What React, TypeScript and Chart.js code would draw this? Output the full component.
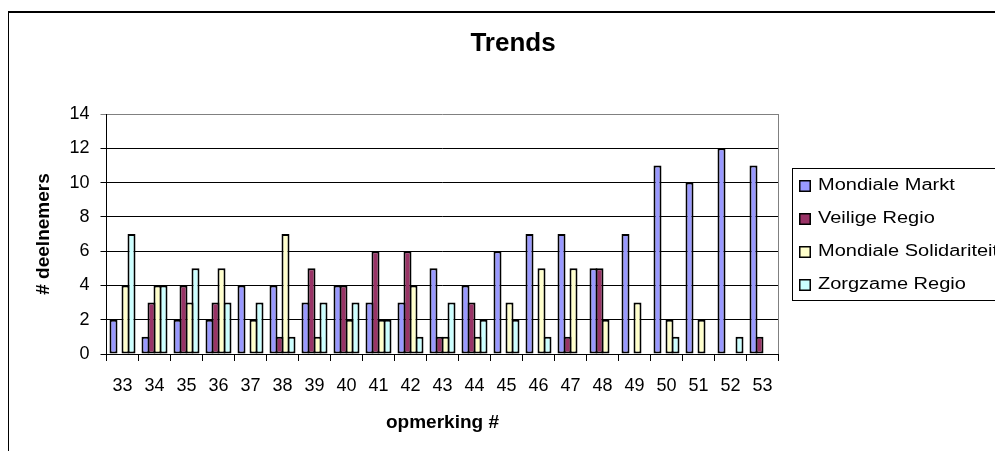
import React, { useEffect, useRef } from "react";
import { Chart, registerables } from "chart.js";

Chart.register(...registerables);

const categories = ["33", "34", "35", "36", "37", "38", "39", "40", "41", "42", "43", "44", "45", "46", "47", "48", "49", "50", "51", "52", "53"];
const mondialeMarkt = [2, 1, 2, 2, 4, 4, 3, 4, 3, 3, 5, 4, 6, 7, 7, 5, 7, 11, 10, 12, 11];
const veiligeRegio = [0, 3, 4, 3, 0, 1, 5, 4, 6, 6, 1, 3, 0, 0, 1, 5, 0, 0, 0, 0, 1];
const mondialeSolidariteit = [4, 4, 3, 5, 2, 7, 1, 2, 2, 4, 1, 1, 3, 5, 5, 2, 3, 2, 2, 0, 0];
const zorgzameRegio = [7, 4, 5, 3, 3, 1, 3, 3, 2, 1, 3, 2, 2, 1, 0, 0, 0, 1, 0, 1, 0];
const seriesNames = ["Mondiale Markt", "Veilige Regio", "Mondiale Solidariteit", "Zorgzame Regio"];
const seriesColors = ["#9999FF", "#993366", "#FFFFCC", "#CCFFFF"];
const yMin = 0;
const yMax = 14;
const yStep = 2;
const chartTitle = "Trends";
const yTitle = "# deelnemers";
const xTitle = "opmerking #";

const FONT = "'Liberation Sans', Arial, sans-serif";
const W = 1008;
const H = 445;
const PLOT_LEFT = 97.5;
const PLOT_RIGHT = 769.5;

const plotDecor = {
  id: "plotDecor",
  beforeDatasetsDraw(chart: any) {
    const { ctx, chartArea } = chart;
    ctx.save();
    ctx.strokeStyle = "#808080";
    ctx.lineWidth = 1;
    ctx.beginPath();
    ctx.moveTo(Math.floor(chartArea.right) + 0.5, chartArea.top);
    ctx.lineTo(Math.floor(chartArea.right) + 0.5, chartArea.bottom);
    ctx.stroke();
    ctx.restore();
  },
  afterDraw(chart: any) {
    const { ctx } = chart;
    ctx.save();
    // title
    ctx.font = "bold 26px " + FONT;
    ctx.fillStyle = "#000";
    ctx.textAlign = "center";
    ctx.textBaseline = "middle";
    ctx.fillText(chartTitle, W / 2, 31);
    // legend box
    ctx.strokeStyle = "#000";
    ctx.lineWidth = 1;
    ctx.strokeRect(783.5, 155.5, 400, 132);
    chart.data.datasets.forEach((ds: any, i: number) => {
      const y = 173 + 33 * i;
      ctx.fillStyle = "#000";
      ctx.fillRect(790, y - 6, 12, 12);
      ctx.fillStyle = ds.backgroundColor;
      ctx.fillRect(791.5, y - 4.5, 9, 9);
      ctx.save();
      ctx.translate(809, y);
      ctx.scale(1.25, 1);
      ctx.font = "16px " + FONT;
      ctx.fillStyle = "#000";
      ctx.textBaseline = "middle";
      ctx.textAlign = "left";
      ctx.fillText(ds.label, 0, 0);
      ctx.restore();
    });
    ctx.restore();
  },
};

export default function App() {
  const ref = useRef<HTMLCanvasElement | null>(null);

  useEffect(() => {
    document.documentElement.style.overflow = "hidden";
    document.body.style.overflow = "hidden";
    if (!ref.current) return;
    const values = [mondialeMarkt, veiligeRegio, mondialeSolidariteit, zorgzameRegio];
    const chart = new Chart(ref.current, {
      type: "bar",
      data: {
        labels: categories,
        datasets: values.map((v, i) => ({
          label: seriesNames[i],
          data: v,
          backgroundColor: seriesColors[i],
          borderColor: "#000",
          borderWidth: 2,
          borderSkipped: false,
          inflateAmount: 0,
          categoryPercentage: 0.75,
          barPercentage: 8 / 6,
        })),
      },
      options: {
        responsive: false,
        animation: false,
        devicePixelRatio: 1,
        layout: { padding: { left: 0, right: W - PLOT_RIGHT, top: 101, bottom: 0 } },
        plugins: {
          legend: { display: false },
          tooltip: { enabled: false },
          title: { display: false },
        },
        scales: {
          x: {
            afterFit: (s: any) => {
              s.height = H - 341;
            },
            grid: {
              drawOnChartArea: false,
              drawTicks: true,
              tickLength: 7,
              color: "#000",
              offset: true,
            },
            border: { color: "#000", width: 1 },
            ticks: {
              color: "#000",
              font: { family: FONT, size: 18 },
              padding: 14,
              maxRotation: 0,
              autoSkip: false,
            },
            title: {
              display: true,
              text: xTitle,
              color: "#000",
              font: { family: FONT, size: 19, weight: "bold" },
              padding: { top: 0, bottom: 24 },
            },
          },
          y: {
            min: yMin,
            max: yMax,
            afterFit: (s: any) => {
              s.width = PLOT_LEFT;
            },
            grid: {
              drawTicks: true,
              tickLength: 6,
              color: (c: any) => (c.tick && c.tick.value === yMax ? "#808080" : "#000"),
            },
            border: { color: "#000", width: 1 },
            ticks: {
              stepSize: yStep,
              color: "#000",
              font: { family: FONT, size: 18 },
              padding: 11,
            },
            title: {
              display: true,
              text: yTitle,
              color: "#000",
              font: { family: FONT, size: 19, weight: "bold" },
              padding: { top: 23, bottom: 0 },
            },
          },
        },
      },
      plugins: [plotDecor],
    });
    return () => chart.destroy();
  }, []);

  return (
    <div
      style={{
        marginTop: 3,
        marginLeft: -1,
        width: W,
        height: H,
        border: "2px solid #000",
        background: "#fff",
      }}
    >
      <canvas ref={ref} width={W} height={H} style={{ display: "block" }} />
    </div>
  );
}
